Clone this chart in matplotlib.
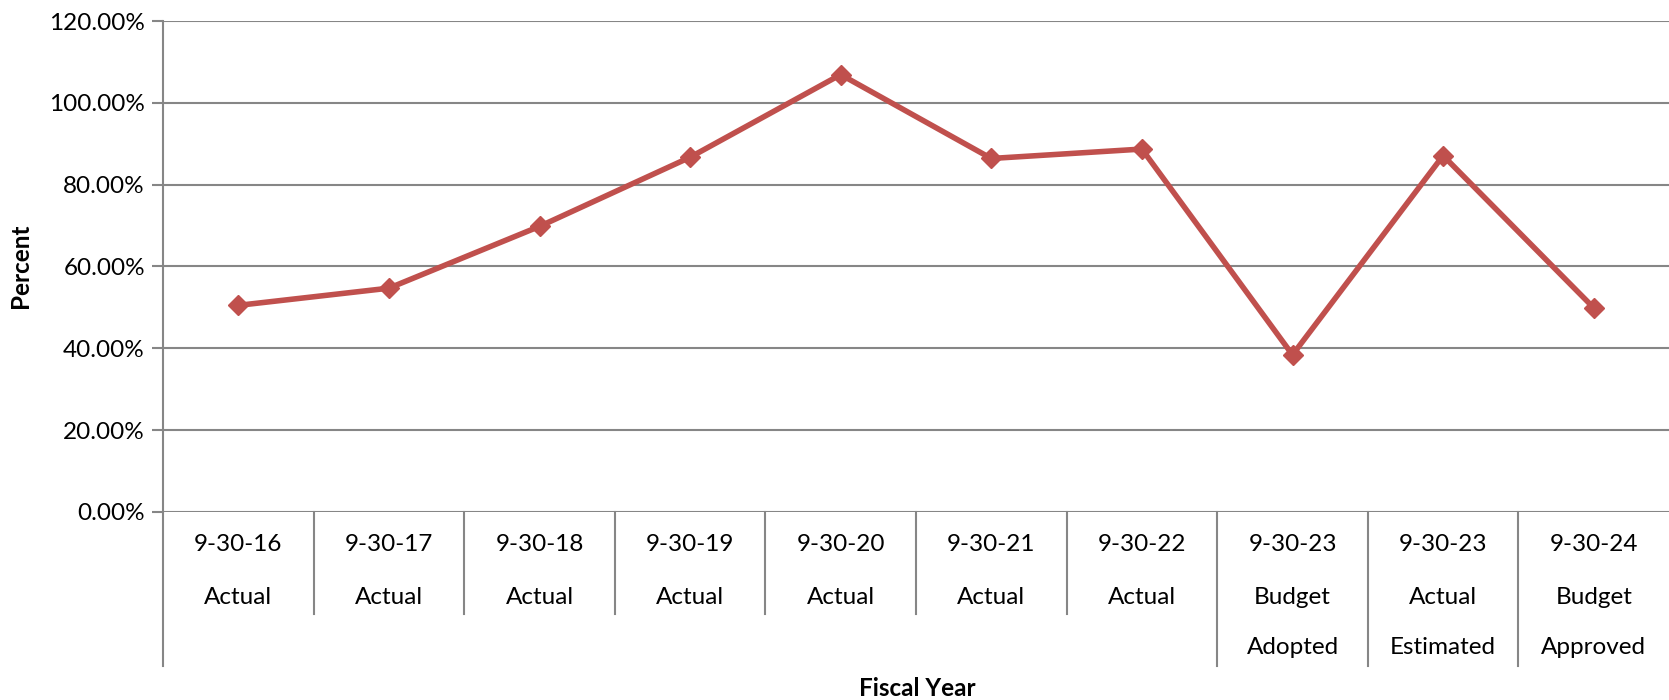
import numpy as np
import matplotlib
matplotlib.use("Agg")
import matplotlib.pyplot as plt
import matplotlib.transforms as mtransforms

plt.rcParams['font.family'] = ['Lato', 'DejaVu Sans']

# data
years = ["9-30-16", "9-30-17", "9-30-18", "9-30-19", "9-30-20",
         "9-30-21", "9-30-22", "9-30-23", "9-30-23", "9-30-24"]
kind1 = ["Actual", "Actual", "Actual", "Actual", "Actual",
         "Actual", "Actual", "Budget", "Actual", "Budget"]
kind2 = ["", "", "", "", "", "", "", "Adopted", "Estimated", "Approved"]
percent = [50.5, 54.7, 69.8, 86.7, 106.9, 86.4, 88.7, 38.4, 87.1, 49.9]

grid_col = "#868686"
line_col = "#C0504D"
fs = 17.5

fig = plt.figure(figsize=(16.69, 7.00), dpi=100)
ax = fig.add_axes([163/1669, 0.2686, 1 - 163/1669, 0.7014])

x = np.arange(len(percent))
ax.plot(x, percent, color=line_col, lw=4, marker="D", ms=10.5, zorder=3)

ax.set_xlim(-0.5, len(percent) - 0.5)
ax.set_ylim(0, 120)
ax.set_yticks(np.arange(0, 121, 20))
ax.set_yticklabels(["%.2f%%" % v for v in np.arange(0, 121, 20)], fontsize=fs)
ax.tick_params(axis="y", length=8, width=1.5, color=grid_col, pad=5)
ax.set_xticks([])

for s in ["top", "right", "bottom"]:
    ax.spines[s].set_visible(False)
ax.spines["left"].set_color(grid_col)
ax.spines["left"].set_linewidth(1.5)
ax.grid(axis="y", color=grid_col, lw=1.5)
ax.set_axisbelow(True)

# category table under the axis
trans = mtransforms.blended_transform_factory(ax.transData, ax.transAxes)
short_y = -0.2077
long_y = -0.3137
ax.plot([-0.5, -0.5], [0, long_y], transform=trans, color=grid_col,
        lw=1.5, clip_on=False)
for i in range(len(percent) - 1):
    deep = kind2[i] != "" or kind2[i + 1] != ""
    ax.plot([i + 0.5, i + 0.5], [0, long_y if deep else short_y],
            transform=trans, color=grid_col, lw=1.5, clip_on=False)

for i in range(len(percent)):
    ax.text(i, -0.0672, years[i], transform=trans, ha="center", va="center",
            fontsize=fs)
    ax.text(i, -0.1752, kind1[i], transform=trans, ha="center", va="center",
            fontsize=fs)
    if kind2[i]:
        ax.text(i, -0.277, kind2[i], transform=trans, ha="center",
                va="center", fontsize=fs)

fig.text(917/1669, 12/700, "Fiscal Year", ha="center", va="center",
         fontsize=fs, fontweight="bold")
fig.text(21/1669, 1 - 266/700, "Percent", ha="center", va="center",
         rotation=90, fontsize=fs, fontweight="bold")

fig.savefig("out.png", dpi=100)
